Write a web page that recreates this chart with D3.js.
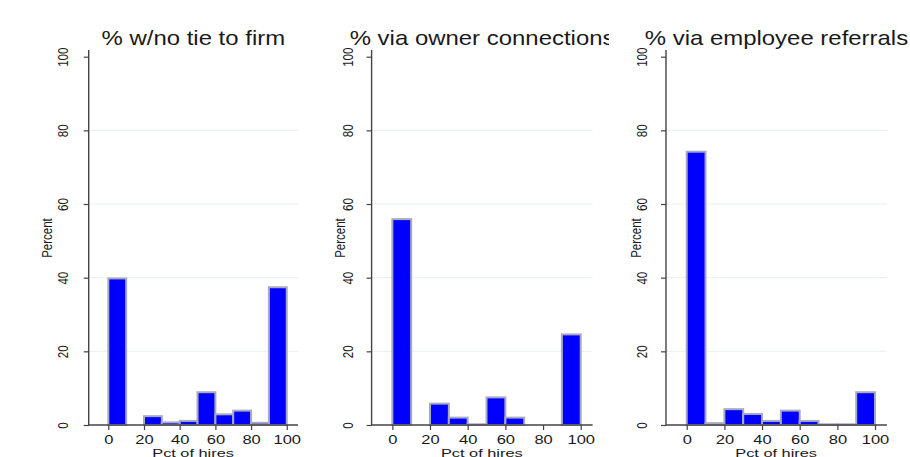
<!DOCTYPE html>
<html>
<head>
<meta charset="utf-8">
<script src="https://cdn.jsdelivr.net/npm/d3@7"></script>
<style>
  body { margin: 0; background: #fff; }
  text { font-family: "Liberation Sans", Arial, sans-serif; fill: #1a1a1a; }
</style>
</head>
<body>
<svg id="chart" width="910" height="457"></svg>
<script>
// bin starts (width 10), percent of firms in each bin
const binStarts = [0, 10, 20, 30, 40, 50, 60, 70, 80, 90];
const noTie    = [39.8, 0, 2.4, 0.7, 1.1, 8.9, 2.9, 3.9, 0.6, 37.4];
const owner    = [55.9, 0, 5.8, 2.0, 0.2, 7.5, 2.0, 0, 0, 24.6];
const employee = [74.2, 0.5, 4.3, 3.0, 1.1, 3.9, 1.1, 0.2, 0.2, 8.9];
const titles = ["% w/no tie to firm", "% via owner connections", "% via employee referrals"];
const xTicks = [0, 20, 40, 60, 80, 100];
const yTicks = [0, 20, 40, 60, 80, 100];
const gridTicks = [20, 40, 60, 80];

const series = [noTie, owner, employee];

// panel layout (pixel positions of x=-11 and x=106.3, label offsets, title clip)
const panels = [
  {left: 88.7,  right: 298,   tickOff: 21,   labOff: 37, clipL: 0,   clipR: 320},
  {left: 371.6, right: 592.6, tickOff: 19,   labOff: 27, clipL: 320, clipR: 609},
  {left: 666,   right: 886.9, tickOff: 19.5, labOff: 25, clipL: 609, clipR: 910}
];

const y0 = 425, y100 = 56.7;
const svg = d3.select("#chart");

// the reference is a bit wider than tall, so horizontal text gets widened
function stretch(sel, f) {
  sel.each(function () {
    const w = this.getComputedTextLength();
    d3.select(this).attr("textLength", w * f).attr("lengthAdjust", "spacingAndGlyphs");
  });
}

const defs = svg.append("defs");

panels.forEach((p, i) => {
  const x = d3.scaleLinear().domain([-11, 106.3]).range([p.left, p.right]);
  const y = d3.scaleLinear().domain([0, 100]).range([y0, y100]);
  const g = svg.append("g");

  // gridlines
  g.selectAll("line.grid").data(gridTicks).enter().append("line")
    .attr("x1", p.left).attr("x2", p.right)
    .attr("y1", d => y(d)).attr("y2", d => y(d))
    .attr("stroke", "#e6f0f1").attr("stroke-width", 1);

  // bars
  const data = binStarts.map((b, j) => ({b: b, v: series[i][j]})).filter(d => d.v > 0);
  g.selectAll("rect.bar").data(data).enter().append("rect")
    .attr("x", d => x(d.b))
    .attr("width", d => x(d.b + 10) - x(d.b))
    .attr("y", d => y(d.v))
    .attr("height", d => y(0) - y(d.v))
    .attr("fill", "#0000ff")
    .attr("stroke", "#a9a9c2")
    .attr("stroke-width", 2);

  // x axis
  const xAxis = g.append("g").attr("transform", `translate(0,${y0})`)
    .call(d3.axisBottom(x).tickValues(xTicks).tickSize(5).tickPadding(4).tickSizeOuter(0));
  xAxis.select(".domain").remove();
  xAxis.selectAll(".tick line").attr("stroke", "#444").attr("stroke-width", 1.2);
  xAxis.selectAll(".tick text").attr("font-size", 12.5).attr("fill", "#1a1a1a")
    .attr("y", 18.5).attr("dy", 0);
  stretch(xAxis.selectAll(".tick text"), 1.32);
  g.append("line").attr("x1", p.left).attr("x2", p.right).attr("y1", y0).attr("y2", y0)
    .attr("stroke", "#444").attr("stroke-width", 1.4);

  // y axis
  const yAxis = g.append("g").attr("transform", `translate(${p.left},0)`)
    .call(d3.axisLeft(y).tickValues(yTicks).tickSize(5).tickSizeOuter(0));
  yAxis.select(".domain").remove();
  yAxis.selectAll(".tick line").attr("stroke", "#444").attr("stroke-width", 1.2);
  yAxis.selectAll(".tick text")
    .attr("x", null).attr("dy", null)
    .attr("transform", `translate(${-p.tickOff},0) rotate(-90) scale(1,1.25)`)
    .attr("text-anchor", "middle").attr("font-size", 11.5).attr("fill", "#1a1a1a");
  g.append("line").attr("x1", p.left).attr("x2", p.left).attr("y1", y0 + 0.7).attr("y2", 50)
    .attr("stroke", "#444").attr("stroke-width", 1.4);

  // axis titles
  g.append("text")
    .attr("transform", `translate(${p.left - p.labOff},238) rotate(-90) scale(1,1.2)`)
    .attr("text-anchor", "middle").attr("font-size", 11.5)
    .text("Percent");
  const xl = g.append("text")
    .attr("x", x(47.5)).attr("y", 456.5)
    .attr("text-anchor", "middle").attr("font-size", 11.5)
    .text("Pct of hires");
  stretch(xl, 1.42);

  // panel title, clipped at the panel edge
  defs.append("clipPath").attr("id", "clip" + i).append("rect")
    .attr("x", p.clipL).attr("y", 0).attr("width", p.clipR - p.clipL).attr("height", 60);
  const t = g.append("text")
    .attr("clip-path", `url(#clip${i})`)
    .attr("x", (p.left + p.right) / 2).attr("y", 45)
    .attr("text-anchor", "middle").attr("font-size", 21)
    .attr("fill", "#1e2a3a")
    .text(titles[i]);
  stretch(t, 1.14);
});
</script>
</body>
</html>
